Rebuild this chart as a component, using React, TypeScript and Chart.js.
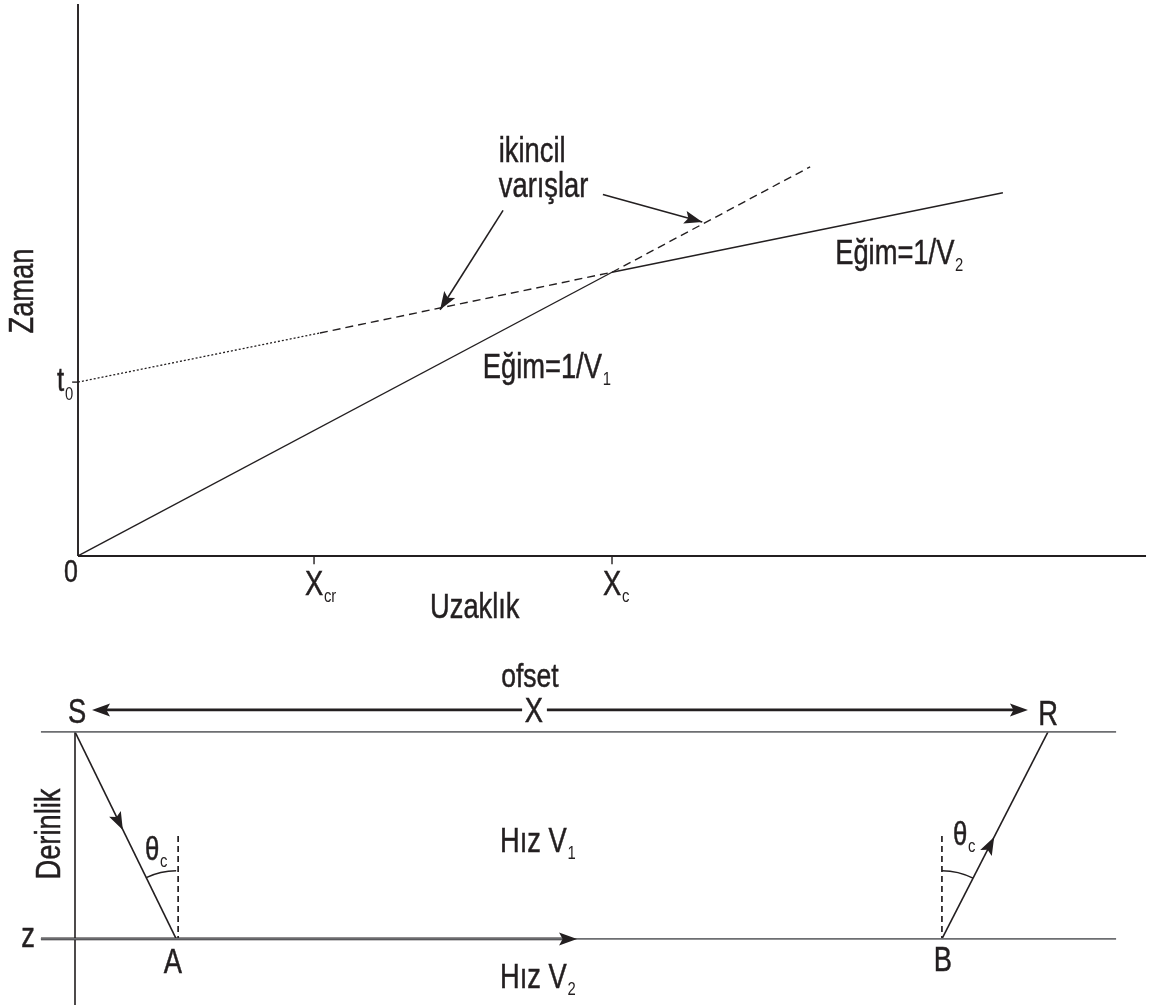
import React, { useEffect, useRef } from "react";
import { Chart, registerables } from "chart.js";

Chart.register(...registerables);

const INK = "#231f20";
const GRAY = "#6d6e71";
const FONT = '"Liberation Sans", Arial, sans-serif';
const NARROW = 0.78;

// ---------- top chart: Uzaklık (distance) vs Zaman (time) ----------
const xAxisExtentX = [0, 20];
const xAxisExtentT = [0, 0];
const yAxisExtentX = [0, 0];
const yAxisExtentT = [0, 10];
const xTickValues = [4.42, 10]; // X_cr, X_c
const xTickSubs = ["cr", "c"];
const t0Value = 3.15;

const directX = [0, 10];
const directT = [0, 5.14];
const refractedX = [10, 17.32];
const refractedT = [5.14, 6.58];
const interceptDottedX = [0, 4.53];
const interceptDottedT = [3.15, 4.04];
const interceptDashedX = [4.53, 10];
const interceptDashedT = [4.04, 5.14];
const directExtX = [10, 13.71];
const directExtT = [5.14, 7.05];
const pointerOneX = [9.83, 11.69];
const pointerOneT = [6.55, 6.05];
const pointerTwoX = [7.96, 6.78];
const pointerTwoT = [6.26, 4.46];

// ---------- bottom diagram: ofset (x) vs Derinlik (depth) ----------
const layerExtentU = [-3.5, 107];
const surfaceDepth = 0;
const refractorDepth = 20;
const depthAxisU = [0, 0];
const depthAxisD = [0, 26.4];
const sourceU = 0;
const receiverU = 100;
const pointAU = 10.4;
const pointBU = 89.1;
const headRayEndU = 51.6;
const normalLeftU = 10.6;
const normalRightU = 89.1;
const normalTopD = 10.05;
const offsetArrowD = -2.13;
const offsetLeftU = [1.75, 45.95];
const offsetRightU = [48.5, 97.94];
const downRayTip = [4.92, 9.47];
const upRayTip = [94.47, 10.14];
const arcRadiusD = 6.6;

// scale ranges
const TOP_X = { min: -1.4607, max: 20.112 };
const TOP_Y = { min: -8.134, max: 10.072 };
const BOT_X = { min: -7.708, max: 110.69 };
const BOT_Y = { min: -70.72, max: 26.38 };

type Lbl = {
  text: string;
  sub?: string;
  g: "top" | "bot";
  x: number;
  y: number;
  size: number;
  subSize?: number;
  subDy?: number;
  align: "left" | "center";
  rotate?: boolean;
};

const labels: Lbl[] = [
  { text: "ikincil", g: "top", x: 7.88, y: 7.14, size: 35, align: "left" },
  { text: "varışlar", g: "top", x: 7.88, y: 6.5, size: 35, align: "left" },
  { text: "Eğim=1/V", sub: "2", g: "top", x: 14.18, y: 5.29, size: 35, align: "left" },
  { text: "Eğim=1/V", sub: "1", g: "top", x: 7.58, y: 3.22, size: 35, align: "left" },
  { text: "Zaman", g: "top", x: -0.843, y: 4.8, size: 35, align: "center", rotate: true },
  { text: "t", sub: "0", g: "top", x: -0.393, y: 2.99, size: 33, subSize: 19, subDy: 9, align: "left" },
  { text: "0", g: "top", x: -0.131, y: -0.471, size: 32, align: "center" },
  { text: "X", sub: xTickSubs[0], g: "top", x: xTickValues[0], y: -0.707, size: 35, subSize: 19, align: "center" },
  { text: "X", sub: xTickSubs[1], g: "top", x: xTickValues[1], y: -0.707, size: 35, subSize: 19, align: "center" },
  { text: "Uzaklık", g: "top", x: 7.43, y: -1.123, size: 35, align: "center" },
  { text: "ofset", g: "bot", x: 46.76, y: -4.35, size: 34, align: "center" },
  { text: "X", g: "bot", x: 47.17, y: -0.97, size: 35, align: "center" },
  { text: "S", g: "bot", x: 0.21, y: -0.87, size: 35, align: "center" },
  { text: "R", g: "bot", x: 100, y: -0.68, size: 35, align: "center" },
  { text: "z", g: "bot", x: -4.83, y: 20.77, size: 35, align: "center" },
  { text: "Derinlik", g: "bot", x: -1.54, y: 9.86, size: 35, align: "center", rotate: true },
  { text: "A", g: "bot", x: 10.07, y: 23.29, size: 35, align: "center" },
  { text: "B", g: "bot", x: 89.2, y: 23.09, size: 35, align: "center" },
  { text: "θ", sub: "c", g: "bot", x: 7.19, y: 12.37, size: 33, subSize: 19, align: "left" },
  { text: "θ", sub: "c", g: "bot", x: 90.24, y: 10.92, size: 33, subSize: 19, align: "left" },
  { text: "Hız V", sub: "1", g: "bot", x: 43.68, y: 11.59, size: 35, align: "left" },
  { text: "Hız V", sub: "2", g: "bot", x: 43.68, y: 24.73, size: 35, align: "left" },
];

type Arrow = { g: "top" | "bot"; from: [number, number]; to: [number, number]; len: number; half: number };
const arrows: Arrow[] = [
  { g: "top", from: [pointerOneX[0], pointerOneT[0]], to: [pointerOneX[1], pointerOneT[1]], len: 18, half: 6.5 },
  { g: "top", from: [pointerTwoX[0], pointerTwoT[0]], to: [pointerTwoX[1], pointerTwoT[1]], len: 18, half: 6.5 },
  { g: "bot", from: [offsetLeftU[1], offsetArrowD], to: [offsetLeftU[0], offsetArrowD], len: 18, half: 6.5 },
  { g: "bot", from: [offsetRightU[0], offsetArrowD], to: [offsetRightU[1], offsetArrowD], len: 18, half: 6.5 },
  { g: "bot", from: [sourceU, surfaceDepth], to: [downRayTip[0], downRayTip[1]], len: 18, half: 6.5 },
  { g: "bot", from: [pointBU, refractorDepth], to: [upRayTip[0], upRayTip[1]], len: 18, half: 6.5 },
  { g: "bot", from: [pointAU, refractorDepth], to: [headRayEndU, refractorDepth], len: 18, half: 6.5 },
];

const zip = (xs: number[], ys: number[]) => xs.map((x, i) => ({ x, y: ys[i] }));

function line(data: { x: number; y: number }[], g: "top" | "bot", width: number, color = INK, dash: number[] = []) {
  return {
    data,
    showLine: true,
    pointRadius: 0,
    borderColor: color,
    borderWidth: width,
    borderDash: dash,
    fill: false,
    xAxisID: g === "top" ? "x" : "xb",
    yAxisID: g === "top" ? "y" : "yb",
  };
}

const overlayPlugin = {
  id: "overlay",
  afterDatasetsDraw(chart: any) {
    const ctx: CanvasRenderingContext2D = chart.ctx;
    const sc = chart.scales;
    const px = (g: string, x: number) => (g === "top" ? sc.x : sc.xb).getPixelForValue(x);
    const py = (g: string, y: number) => (g === "top" ? sc.y : sc.yb).getPixelForValue(y);

    ctx.save();
    ctx.fillStyle = INK;
    ctx.strokeStyle = INK;

    // arrowheads
    for (const a of arrows) {
      const fx = px(a.g, a.from[0]), fy = py(a.g, a.from[1]);
      const tx = px(a.g, a.to[0]), ty = py(a.g, a.to[1]);
      const ang = Math.atan2(ty - fy, tx - fx);
      const c = Math.cos(ang), s = Math.sin(ang);
      ctx.beginPath();
      ctx.moveTo(tx, ty);
      ctx.lineTo(tx - a.len * c + a.half * s, ty - a.len * s - a.half * c);
      ctx.lineTo(tx - a.len * 0.8 * c, ty - a.len * 0.8 * s);
      ctx.lineTo(tx - a.len * c - a.half * s, ty - a.len * s + a.half * c);
      ctx.closePath();
      ctx.fill();
    }

    // critical-angle arcs
    const r = py("bot", refractorDepth) - py("bot", refractorDepth - arcRadiusD);
    ctx.lineWidth = 1.5;
    const ax = px("bot", pointAU), ay = py("bot", refractorDepth);
    const sx = px("bot", sourceU), sy = py("bot", surfaceDepth);
    const a1 = Math.atan2(sy - ay, sx - ax);
    ctx.beginPath();
    ctx.arc(ax, ay, r, a1, -Math.PI / 2);
    ctx.stroke();
    const bx = px("bot", pointBU), by = py("bot", refractorDepth);
    const rx = px("bot", receiverU), ry = py("bot", surfaceDepth);
    const a2 = Math.atan2(ry - by, rx - bx);
    ctx.beginPath();
    ctx.arc(bx, by, r, -Math.PI / 2, a2);
    ctx.stroke();

    // labels
    ctx.lineWidth = 0.5;
    for (const l of labels) {
      const x = px(l.g, l.x), y = py(l.g, l.y);
      ctx.save();
      ctx.translate(x, y);
      if (l.rotate) ctx.rotate(-Math.PI / 2);
      ctx.scale(NARROW, 1);
      ctx.font = `${l.size}px ${FONT}`;
      ctx.textAlign = "left";
      ctx.textBaseline = "alphabetic";
      const w = ctx.measureText(l.text).width;
      const x0 = l.align === "center" ? -w / 2 : 0;
      ctx.fillText(l.text, x0, 0);
      ctx.strokeText(l.text, x0, 0);
      if (l.sub) {
        ctx.font = `${l.subSize ?? 19}px ${FONT}`;
        ctx.fillText(l.sub, x0 + w + 1, l.subDy ?? 7);
      }
      ctx.restore();
    }
    ctx.restore();
  },
};

export default function App() {
  const ref = useRef<HTMLCanvasElement | null>(null);

  useEffect(() => {
    if (!ref.current) return;
    const datasets: any[] = [
      // top chart axes and ticks
      line(zip(xAxisExtentX, xAxisExtentT), "top", 1.9),
      line(zip(yAxisExtentX, yAxisExtentT), "top", 1.9),
      line(zip([-0.11, 0], [t0Value, t0Value]), "top", 1.4),
      ...xTickValues.map((v) => line(zip([v, v], [0, -0.15]), "top", 1.4)),
      // travel-time curves
      line(zip(directX, directT), "top", 1.4),
      line(zip(refractedX, refractedT), "top", 1.4),
      line(zip(interceptDottedX, interceptDottedT), "top", 1.3, INK, [2, 2]),
      line(zip(interceptDashedX, interceptDashedT), "top", 1.4, INK, [8, 5]),
      line(zip(directExtX, directExtT), "top", 1.4, INK, [8, 5]),
      line(zip(pointerOneX, pointerOneT), "top", 1.6),
      line(zip(pointerTwoX, pointerTwoT), "top", 1.6),
      // bottom diagram
      line(zip(layerExtentU, [surfaceDepth, surfaceDepth]), "bot", 1.7, GRAY),
      line(zip(layerExtentU, [refractorDepth, refractorDepth]), "bot", 1.7, GRAY),
      line(zip([layerExtentU[0], headRayEndU - 1], [refractorDepth, refractorDepth]), "bot", 2.7),
      line(zip(depthAxisU, depthAxisD), "bot", 1.6),
      line(zip([sourceU, pointAU], [surfaceDepth, refractorDepth]), "bot", 1.6),
      line(zip([pointBU, receiverU], [refractorDepth, surfaceDepth]), "bot", 1.6),
      line(zip([normalLeftU, normalLeftU], [normalTopD, refractorDepth]), "bot", 1.7, INK, [6, 4]),
      line(zip([normalRightU, normalRightU], [normalTopD, refractorDepth]), "bot", 1.7, INK, [6, 4]),
      line(zip([offsetLeftU[0] + 1, offsetLeftU[1]], [offsetArrowD, offsetArrowD]), "bot", 2.7),
      line(zip([offsetRightU[0], offsetRightU[1] - 1], [offsetArrowD, offsetArrowD]), "bot", 2.7),
    ];

    const chart = new Chart(ref.current, {
      type: "scatter",
      data: { datasets },
      options: {
        animation: false,
        responsive: false,
        devicePixelRatio: 1,
        events: [],
        layout: { padding: 0 },
        plugins: { legend: { display: false }, tooltip: { enabled: false } },
        scales: {
          x: { type: "linear", display: false, min: TOP_X.min, max: TOP_X.max },
          y: { type: "linear", display: false, min: TOP_Y.min, max: TOP_Y.max },
          xb: { type: "linear", axis: "x", display: false, min: BOT_X.min, max: BOT_X.max },
          yb: { type: "linear", axis: "y", display: false, min: BOT_Y.min, max: BOT_Y.max, reverse: true },
        },
      } as any,
      plugins: [overlayPlugin],
    });
    return () => chart.destroy();
  }, []);

  return (
    <div style={{ position: "absolute", left: 0, top: 0, width: 1152, height: 1005, background: "#fff" }}>
      <canvas ref={ref} width={1152} height={1005} style={{ display: "block" }} />
    </div>
  );
}
